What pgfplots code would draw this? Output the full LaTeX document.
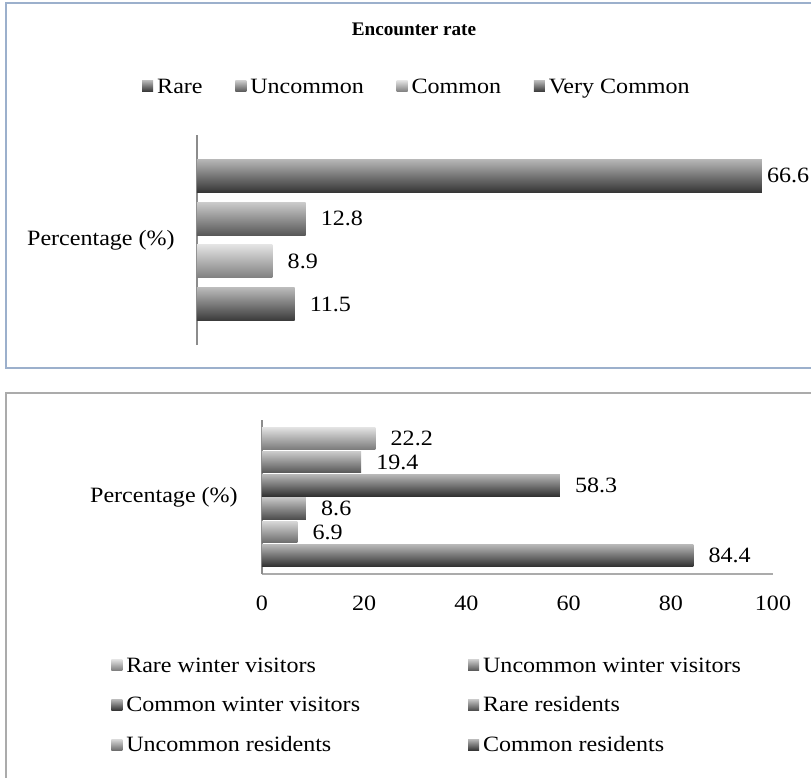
\documentclass[border=0pt]{standalone}
\usepackage{pgfplots}
\pgfplotsset{compat=1.18}
\usepackage{fontspec}
\setmainfont{Liberation Serif}[FakeStretch=1.1]
\newfontfamily\titlefont{Liberation Serif}

\definecolor{frametop}{HTML}{9CB0CC}
\definecolor{framebot}{HTML}{ABABAB}
\definecolor{axisgray}{HTML}{8C8C8C}
% top chart
\definecolor{cRare}{HTML}{4C4C4C}
\definecolor{cUnc}{HTML}{7E7E7E}
\definecolor{cCom}{HTML}{B6B6B6}
\definecolor{cVery}{HTML}{525252}
% bottom chart
\definecolor{cRWV}{HTML}{B0B0B0}
\definecolor{cUWV}{HTML}{7C7C7C}
\definecolor{cCWV}{HTML}{474747}
\definecolor{cRR}{HTML}{6C6C6C}
\definecolor{cUR}{HTML}{9A9A9A}
\definecolor{cCR}{HTML}{4A4A4A}

\tikzset{bev/.style={draw=none, top color=#1!40!white, middle color=#1, bottom color=#1!70!black}}

\pgfplotsset{
  barchart/.style={
    scale only axis, clip=false,
    xbar, bar shift=0pt,
    /pgf/number format/assume math mode=true,
    nodes near coords,
    nodes near coords align={horizontal},
    every node near coord/.append style={text=black, inner sep=0pt, xshift=11.25pt},
    major tick length=0pt,
    yticklabel style={inner sep=0pt, xshift=-16.5pt},
    axis line style={draw=axisgray, line width=0.8pt, -},
    legend image code/.code={\path[##1] (0pt,-2.6pt) rectangle (8.25pt,5.6pt);},
    legend style={draw=none, fill=none, inner sep=0pt, row sep=15.4pt,
      nodes={inner sep=0pt, text height=11pt, text depth=3.5pt},
      /tikz/every odd column/.append style={column sep=3pt}},
    legend cell align=left,
  },
}

\begin{document}
\begin{tikzpicture}[font=\fontsize{16.4}{19.5}\selectfont]
\path[use as bounding box] (0pt,0pt) rectangle (608.25pt,-583.5pt);
\draw[frametop, line width=1.2pt] (4.5pt,-2.25pt) rectangle (615pt,-276pt);
\draw[framebot, line width=1.2pt] (4.5pt,-294.75pt) rectangle (615pt,-592.5pt);

% ---------- top chart: encounter rate
\begin{axis}[barchart,
  at={(147.75pt,-258.75pt)}, anchor=south west,
  width=457.95pt, height=157.5pt,
  xmin=0, xmax=72, ymin=0.05, ymax=4.95,
  axis x line=none, axis y line*=left,
  bar width=0.77,
  ytick={2.5}, yticklabels={Percentage (\%)},
  title={Encounter rate},
  title style={at={(axis description cs:0.3554,1.4667)}, anchor=center,
    font=\titlefont\bfseries\fontsize{14.4}{17}\selectfont},
  legend columns=4,
  legend style={at={(axis description cs:-0.0901,1.2238)}, anchor=west,
    /tikz/every even column/.append style={column sep=24.5pt}},
]
\addplot[bev=cRare, every node near coord/.append style={xshift=-7.5pt}] coordinates {(66.6,4)};
\addlegendentry{Rare}
\addplot[bev=cUnc] coordinates {(12.8,3)};
\addlegendentry{Uncommon}
\addplot[bev=cCom] coordinates {(8.9,2)};
\addlegendentry{Common}
\addplot[bev=cVery] coordinates {(11.5,1)};
\addlegendentry{Very Common}
\end{axis}

% ---------- bottom chart: status
\begin{axis}[barchart,
  at={(196.5pt,-430.5pt)}, anchor=south west,
  width=383.25pt, height=115.5pt,
  xmin=0, xmax=100, ymin=0.2, ymax=6.8,
  axis x line*=bottom, axis y line*=left,
  x axis line style={draw=framebot},
  bar width=0.92,
  xtick={0,20,40,60,80,100},
  xticklabel style={inner sep=0pt, yshift=-16.5pt},
  ytick={3.5}, yticklabels={Percentage (\%)},
  yticklabel style={xshift=-1.5pt},
  legend columns=2,
  legend style={at={(axis description cs:-0.2955,-0.8636)}, anchor=west,
    /tikz/every even column/.append style={column sep=81pt}},
]
\addplot[bev=cRWV] coordinates {(22.2,6)};
\addlegendentry{Rare winter visitors}
\addplot[bev=cUWV] coordinates {(19.4,5)};
\addlegendentry{Uncommon winter visitors}
\addplot[bev=cCWV] coordinates {(58.3,4)};
\addlegendentry{Common winter visitors}
\addplot[bev=cRR] coordinates {(8.6,3)};
\addlegendentry{Rare residents}
\addplot[bev=cUR] coordinates {(6.9,2)};
\addlegendentry{Uncommon residents}
\addplot[bev=cCR] coordinates {(84.4,1)};
\addlegendentry{Common residents}
\end{axis}
\end{tikzpicture}
\end{document}
